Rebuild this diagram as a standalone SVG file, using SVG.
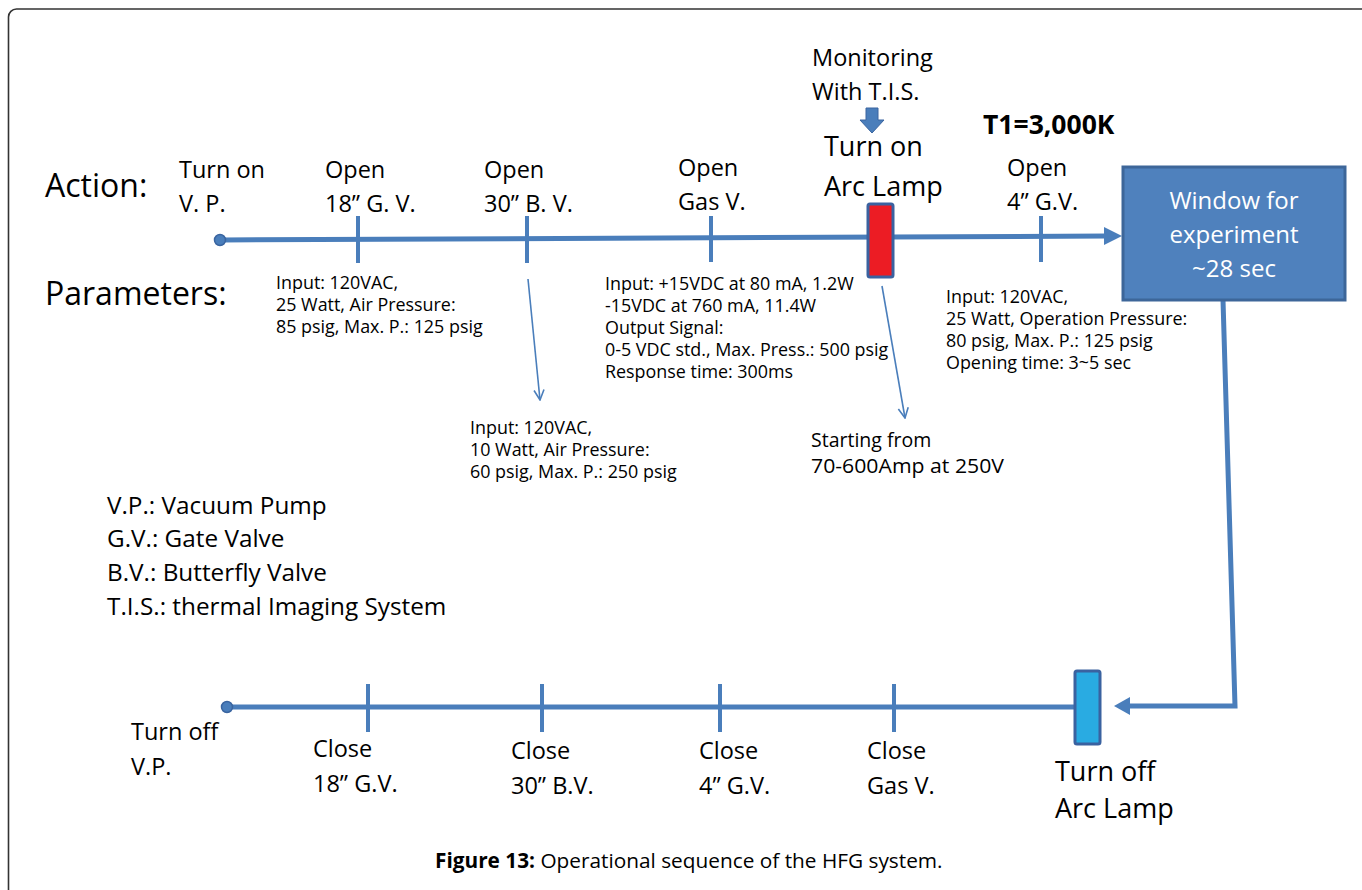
<svg xmlns="http://www.w3.org/2000/svg" width="1362" height="890" viewBox="0 0 1362 890">
<style>
text{font-family:"Open Sans",Carlito,Lato,"Liberation Sans",sans-serif;fill:#000}
.act{font-size:23.5px}
.big{font-size:32px}
.par{font-size:17.9px}
.leg{font-size:24.3px}
.line{stroke:#4a7ebb;stroke-width:5;fill:none}
.tick{stroke:#4a7ebb;stroke-width:4}
.thin{stroke:#4a7ebb;stroke-width:1.6;fill:none}
</style>
<defs>
<marker id="open" viewBox="0 0 12 12" refX="11" refY="6" markerWidth="12" markerHeight="12" markerUnits="userSpaceOnUse" orient="auto">
<path d="M1,1 L11,6 L1,11" fill="none" stroke="#4a7ebb" stroke-width="1.6"/>
</marker>
</defs>
<rect x="8.5" y="9" width="1420" height="920" rx="8" fill="#fff" stroke="#333" stroke-width="1.6"/>

<g id="labels">
<text class="big" x="45" y="197">Action:</text>
<text class="big" x="45" y="305">Parameters:</text>
</g>

<g id="connectors">
<line class="line" x1="222" y1="240" x2="1108" y2="236"/>
<polygon points="1104,227 1122,236 1104,245" fill="#4a7ebb"/>
<polyline class="line" points="1223,300 1235,706 1128,706"/>
<polygon points="1130,697 1114,706 1130,715" fill="#4a7ebb"/>
<line class="line" x1="230" y1="707" x2="1075" y2="707"/>
<line class="thin" x1="528" y1="279" x2="540" y2="400" marker-end="url(#open)"/>
<line class="thin" x1="882" y1="286" x2="905" y2="418" marker-end="url(#open)"/>
</g>

<g id="start-top"><circle cx="220" cy="240" r="5.5" fill="#4a7ebb" stroke="#3a65a0" stroke-width="1.5"/>
<text class="act" x="179" y="178">Turn on</text><text class="act" x="179" y="212">V. P.</text></g>

<g id="open-18gv"><line class="tick" x1="358" y1="216" x2="358" y2="263"/>
<text class="act" x="325" y="178">Open</text><text class="act" x="325" y="212">18” G. V.</text>
<text class="par" x="276" y="289">Input: 120VAC,</text>
<text class="par" x="276" y="311">25 Watt, Air Pressure:</text>
<text class="par" x="276" y="333">85 psig, Max. P.: 125 psig</text></g>

<g id="open-30bv"><line class="tick" x1="527" y1="216" x2="527" y2="263"/>
<text class="act" x="484" y="178">Open</text><text class="act" x="484" y="212">30” B. V.</text>
<text class="par" x="470" y="434">Input: 120VAC,</text>
<text class="par" x="470" y="456">10 Watt, Air Pressure:</text>
<text class="par" x="470" y="478">60 psig, Max. P.: 250 psig</text></g>

<g id="open-gas"><line class="tick" x1="711" y1="216" x2="711" y2="262"/>
<text class="act" x="678" y="176">Open</text><text class="act" x="678" y="210">Gas V.</text>
<text class="par" x="605" y="290">Input: +15VDC at 80 mA, 1.2W</text>
<text class="par" x="605" y="312">-15VDC at 760 mA, 11.4W</text>
<text class="par" x="605" y="334">Output Signal:</text>
<text class="par" x="605" y="356">0-5 VDC std., Max. Press.: 500 psig</text>
<text class="par" x="605" y="378">Response time: 300ms</text></g>

<g id="monitor">
<text class="act" x="812" y="66">Monitoring</text><text class="act" x="812" y="100">With T.I.S.</text>
<polygon points="866,108 878,108 878,120 884,120 872,133 860,120 866,120" fill="#4a7ebb" stroke="#3a65a0" stroke-width="1"/>
</g>

<g id="arc-on">
<text x="824" y="156" style="font-size:27px">Turn on</text><text x="824" y="196" style="font-size:27px">Arc Lamp</text>
<rect x="868" y="204" width="25" height="73" rx="2" fill="#ec1c24" stroke="#3a62a0" stroke-width="3"/>
<text x="811" y="447" style="font-size:19.5px">Starting from</text>
<text x="811" y="473" style="font-size:19.5px" textLength="193" lengthAdjust="spacingAndGlyphs">70-600Amp at 250V</text>
</g>

<g id="t1"><text x="983" y="134" style="font-size:26.5px;font-weight:bold">T1=3,000K</text></g>

<g id="open-4gv"><line class="tick" x1="1041" y1="216" x2="1041" y2="262"/>
<text class="act" x="1007" y="176">Open</text><text class="act" x="1007" y="210">4” G.V.</text>
<text class="par" x="946" y="303">Input: 120VAC,</text>
<text class="par" x="946" y="325">25 Watt, Operation Pressure:</text>
<text class="par" x="946" y="347">80 psig, Max. P.: 125 psig</text>
<text class="par" x="946" y="369">Opening time: 3~5 sec</text></g>

<g id="window">
<rect x="1123" y="167" width="222" height="133" fill="#4f81bd" stroke="#3d6699" stroke-width="3"/>
<text x="1234" y="209" text-anchor="middle" style="font-size:24px;fill:#fff">Window for</text>
<text x="1234" y="243" text-anchor="middle" style="font-size:24px;fill:#fff">experiment</text>
<text x="1234" y="277" text-anchor="middle" style="font-size:24px;fill:#fff">~28 sec</text>
</g>

<g id="legend">
<text class="leg" x="107" y="514">V.P.: Vacuum  Pump</text>
<text class="leg" x="107" y="547">G.V.: Gate Valve</text>
<text class="leg" x="107" y="581">B.V.: Butterfly Valve</text>
<text class="leg" x="107" y="615">T.I.S.: thermal Imaging System</text>
</g>

<g id="end-bottom"><circle cx="227" cy="707" r="5.5" fill="#4a7ebb" stroke="#3a65a0" stroke-width="1.5"/>
<text class="act" x="131" y="740">Turn off</text><text class="act" x="131" y="775">V.P.</text></g>

<g id="close-18gv"><line class="tick" x1="368" y1="684" x2="368" y2="732"/>
<text class="act" x="313" y="757">Close</text><text class="act" x="313" y="792">18” G.V.</text></g>

<g id="close-30bv"><line class="tick" x1="542" y1="684" x2="542" y2="732"/>
<text class="act" x="511" y="759">Close</text><text class="act" x="511" y="794">30” B.V.</text></g>

<g id="close-4gv"><line class="tick" x1="720" y1="684" x2="720" y2="732"/>
<text class="act" x="699" y="759">Close</text><text class="act" x="699" y="794">4” G.V.</text></g>

<g id="close-gas"><line class="tick" x1="894" y1="684" x2="894" y2="732"/>
<text class="act" x="867" y="759">Close</text><text class="act" x="867" y="794">Gas V.</text></g>

<g id="arc-off">
<rect x="1075" y="671" width="25" height="73" rx="2" fill="#29abe2" stroke="#3a62a0" stroke-width="3"/>
<text x="1055" y="781" style="font-size:27px">Turn off</text><text x="1055" y="818" style="font-size:27px">Arc Lamp</text>
</g>

<g id="caption"><text x="435" y="868" style="font-size:20.8px"><tspan font-weight="bold">Figure 13:</tspan> Operational sequence of the HFG system.</text></g>
</svg>
